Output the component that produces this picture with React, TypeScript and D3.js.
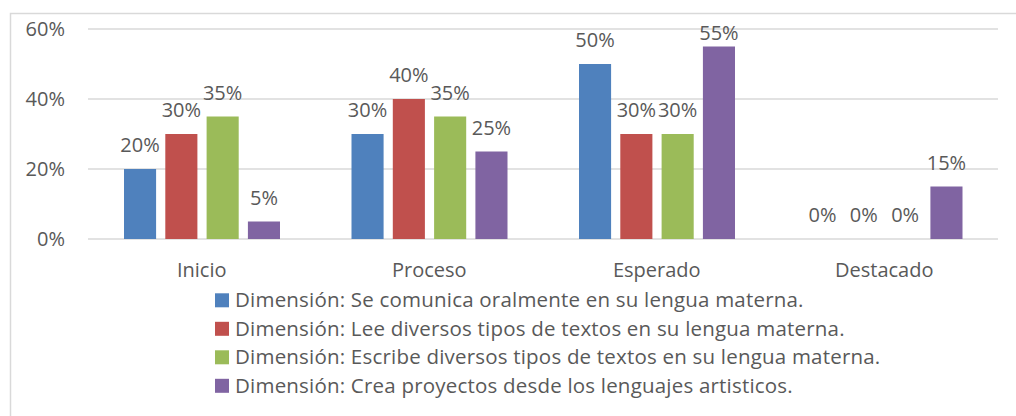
import React from "react";
import * as d3 from "d3";

const categories = ["Inicio", "Proceso", "Esperado", "Destacado"];
const seriesNames = [
  "Dimensión: Se comunica oralmente en su lengua materna.",
  "Dimensión: Lee diversos tipos de textos en su lengua materna.",
  "Dimensión: Escribe diversos tipos de textos en su lengua materna.",
  "Dimensión: Crea proyectos desde los lenguajes artisticos.",
];
const oralValues = [0.2, 0.3, 0.5, 0];
const leeValues = [0.3, 0.4, 0.3, 0];
const escribeValues = [0.35, 0.35, 0.3, 0];
const creaValues = [0.05, 0.25, 0.55, 0.15];
const yTicks = [0, 0.2, 0.4, 0.6];
const colors = ["#4F81BD", "#C0504D", "#9BBB59", "#8064A2"];

const seriesValues = [oralValues, leeValues, escribeValues, creaValues];

const W = 1016;
const H = 416;
const FONT = "'Open Sans', Lato, sans-serif";
const TEXT = "#595959";
const FS = 20;

export default function App() {
  const x = d3.scaleBand<string>().domain(categories).range([88, 998]).paddingInner(0).paddingOuter(0);
  const xs = d3
    .scaleBand<number>()
    .domain(d3.range(seriesNames.length))
    .range([36, 192])
    .paddingInner(0.223)
    .paddingOuter(0);
  const y = d3.scaleLinear().domain([0, 0.6]).range([239, 29]);
  const fmt = d3.format(".0%");
  const labelMinY = y(0.6) + 11;

  return (
    <svg
      width={W}
      height={H}
      style={{ position: "absolute", left: 0, top: 0, background: "#fff" }}
      fontFamily={FONT}
    >
      <rect x={10.5} y={13.5} width={1030} height={430} fill="#fff" stroke="#D9D9D9" strokeWidth={1.5} />
      {yTicks.map((t) => (
        <g key={t}>
          <line x1={88} x2={998} y1={y(t)} y2={y(t)} stroke="#D9D9D9" strokeWidth={1.5} />
          <text x={65} y={y(t) + 7} textAnchor="end" fontSize={FS} fill={TEXT}>
            {fmt(t)}
          </text>
        </g>
      ))}
      {seriesValues.map((vals, si) =>
        categories.map((c, ci) => {
          const bx = (x(c) as number) + (xs(si) as number);
          const v = vals[ci];
          return (
            <g key={`${si}-${ci}`}>
              {v > 0 && (
                <rect x={bx} y={y(v)} width={xs.bandwidth()} height={y(0) - y(v)} fill={colors[si]} />
              )}
              <text
                x={bx + xs.bandwidth() / 2}
                y={Math.max(y(v) - 17, labelMinY)}
                textAnchor="middle"
                fontSize={FS}
                fill={TEXT}
              >
                {fmt(v)}
              </text>
            </g>
          );
        })
      )}
      {categories.map((c) => (
        <text
          key={c}
          x={(x(c) as number) + x.bandwidth() / 2}
          y={277}
          textAnchor="middle"
          fontSize={FS}
          fill={TEXT}
        >
          {c}
        </text>
      ))}
      {seriesNames.map((s, i) => (
        <g key={s} transform={`translate(215, ${300.3 + i * 28.5})`}>
          <rect x={0} y={-7} width={14} height={14} fill={colors[i]} />
          <text x={20} y={7} fontSize={20.5} fill={TEXT} letterSpacing={0.2}>
            {s}
          </text>
        </g>
      ))}
    </svg>
  );
}
